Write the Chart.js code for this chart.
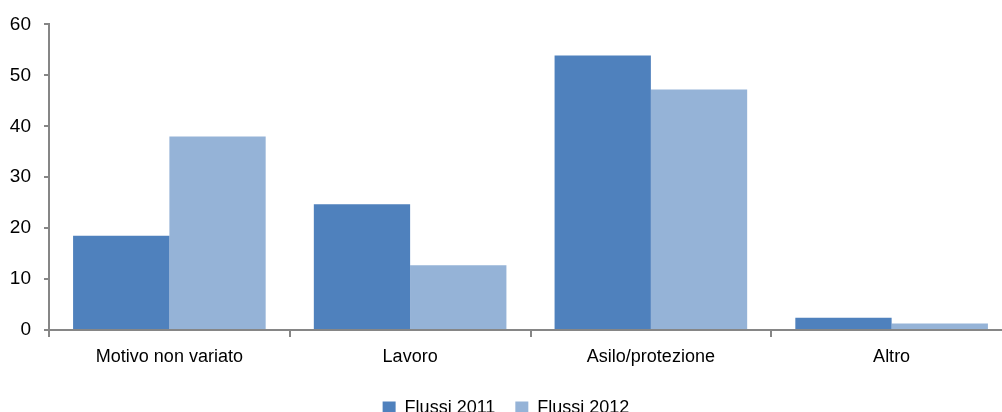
<!DOCTYPE html>
<html>
<head>
<meta charset="utf-8">
<script src="https://cdn.jsdelivr.net/npm/chart.js@4"></script>
<style>
  html, body { margin: 0; padding: 0; background: #fff; overflow: hidden; }
  #wrap { width: 1015px; height: 427px; }
</style>
</head>
<body>
<div id="wrap"><canvas id="motiviChart"></canvas></div>
<script>
// categorie e valori (%)
var categorie = ['Motivo non variato', 'Lavoro', 'Asilo/protezione', 'Altro'];
var flussi2011 = [18.5, 24.7, 53.9, 2.4];
var flussi2012 = [38.0, 12.7, 47.2, 1.3];
var yTicks = [0, 10, 20, 30, 40, 50, 60];

var fontFam = "'Liberation Sans', Arial, sans-serif";
var grigio = '#868686';

const ctx = document.getElementById('motiviChart');
const myChart = new Chart(ctx, {
    type: 'bar',
    data: {
        labels: categorie,
        datasets: [{
            label: 'Flussi 2011',
            data: flussi2011,
            backgroundColor: '#4F81BD',
            borderWidth: 0
        }, {
            label: 'Flussi 2012',
            data: flussi2012,
            backgroundColor: '#95B3D7',
            borderWidth: 0
        }]
    },
    options: {
        responsive: true,
        maintainAspectRatio: false,
        animation: false,
        datasets: {
            bar: { categoryPercentage: 0.8, barPercentage: 1.0 }
        },
        layout: { padding: { top: 18, right: 3, left: 0, bottom: 0 } },
        plugins: {
            tooltip: { enabled: false },
            legend: {
                position: 'bottom',
                labels: {
                    color: '#000',
                    font: { family: fontFam, size: 18 },
                    boxWidth: 13,
                    boxHeight: 13,
                    padding: 20
                }
            }
        },
        scales: {
            y: {
                min: 0,
                max: 60,
                afterBuildTicks: function (axis) {
                    axis.ticks = yTicks.map(function (v) { return { value: v }; });
                },
                afterFit: function (axis) { axis.width = 49; },
                border: { color: grigio, width: 2 },
                grid: {
                    drawOnChartArea: false,
                    color: grigio,
                    lineWidth: 2,
                    tickLength: 5
                },
                ticks: {
                    color: '#000',
                    padding: 13,
                    font: { family: fontFam, size: 19 }
                }
            },
            x: {
                afterFit: function (axis) { axis.height = 49; },
                border: { color: grigio, width: 2 },
                grid: {
                    offset: true,
                    drawOnChartArea: false,
                    color: grigio,
                    lineWidth: 2,
                    tickLength: 7
                },
                ticks: {
                    color: '#000',
                    padding: 9,
                    font: { family: fontFam, size: 18 }
                }
            }
        }
    }
});
</script>
</body>
</html>
